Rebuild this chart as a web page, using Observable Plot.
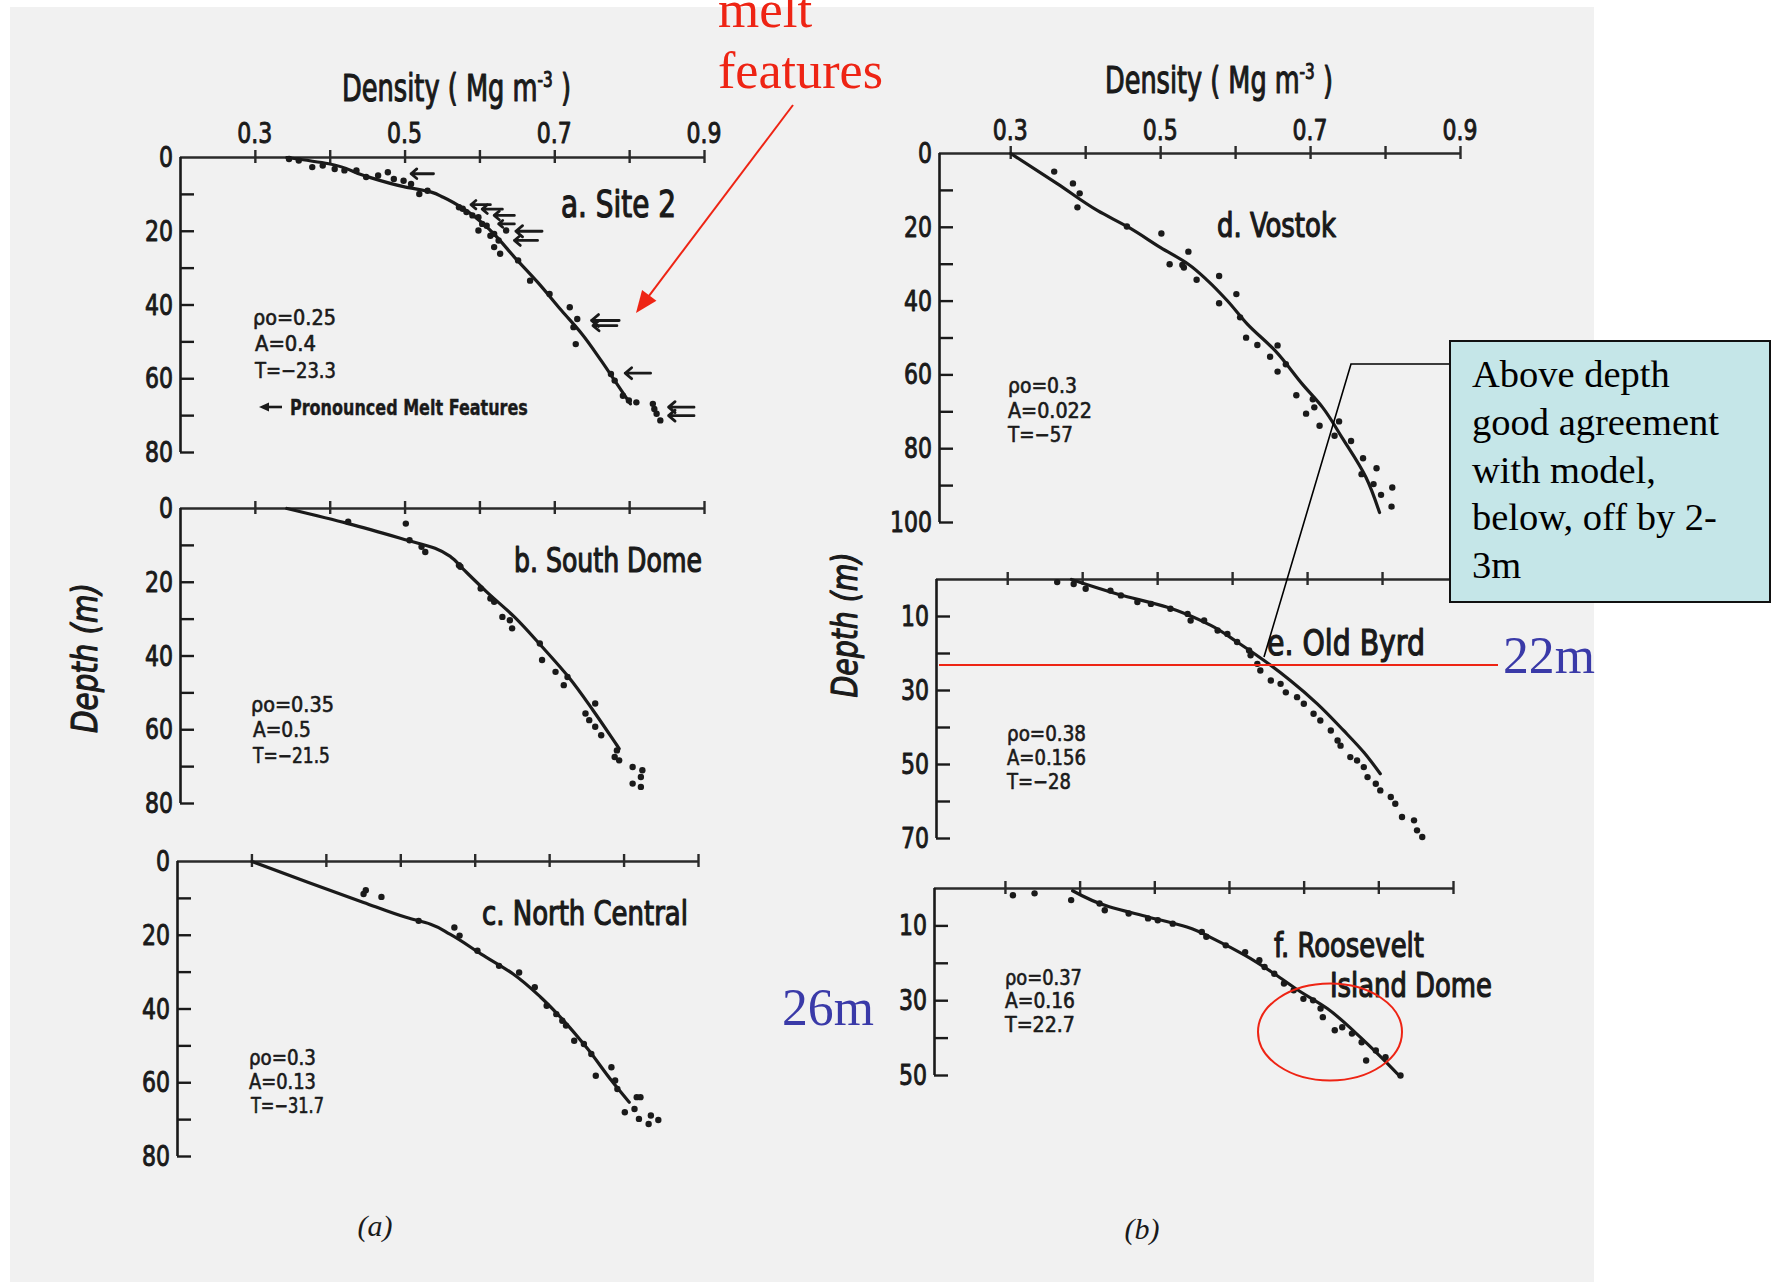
<!DOCTYPE html>
<html><head><meta charset="utf-8">
<script src="https://cdn.jsdelivr.net/npm/d3@7"></script>
<script src="https://cdn.jsdelivr.net/npm/@observablehq/plot@0.6"></script>
<style>
html,body{margin:0;padding:0;background:#fff;}
#wrap{position:relative;width:1779px;height:1282px;overflow:hidden;background:#fff;}
#paper{position:absolute;left:10px;top:7px;width:1584px;height:1275px;background:#f1f1f1;}
#wrap svg{position:absolute;left:0;top:0;}
</style></head><body><div id="wrap"><div id="paper"></div></div>
<script>
// ---------------- data (density Mg m^-3, depth m) ----------------
const densityTicks = [0.3, 0.4, 0.5, 0.6, 0.7, 0.8, 0.9];
const densityTickLabels = [0.3, 0.5, 0.7, 0.9];
const depthLabels80 = [0, 20, 40, 60, 80];
const depthLabels100 = [0, 20, 40, 60, 80, 100];
const depthLabels70 = [10, 30, 50, 70];
const depthLabels50 = [10, 30, 50];

// a. Site 2
const siteA_model = [[0.342,0],[0.398,1.7],[0.445,4.9],[0.498,7.9],[0.535,9.4],[0.551,10.8],[0.582,14.4],[0.614,19.8],[0.646,27.0],[0.677,33.8],[0.709,41.5],[0.736,47.8],[0.762,55.1],[0.783,61.4],[0.801,66.8]];
const siteA_obs = [[0.345,0.4],[0.358,0.8],[0.376,2.6],[0.390,2.2],[0.406,3.1],[0.419,3.5],[0.435,3.5],[0.448,5.3],[0.464,4.9],[0.477,4.0],[0.485,5.8],[0.498,6.3],[0.508,7.2],[0.519,9.9],[0.530,9.0],[0.572,13.5],[0.577,13.9],[0.582,14.8],[0.590,15.7],[0.598,16.2],[0.603,18.0],[0.598,19.8],[0.609,18.5],[0.614,21.2],[0.619,20.7],[0.619,24.3],[0.625,22.5],[0.627,26.1],[0.635,19.8],[0.651,27.9],[0.667,33.4],[0.693,37.0],[0.720,40.6],[0.730,43.8],[0.725,46.0],[0.728,50.6],[0.775,58.7],[0.780,60.5],[0.791,64.6],[0.799,65.9],[0.809,66.4],[0.831,66.8],[0.833,68.2],[0.836,69.5],[0.841,71.3]];
// pronounced melt features: [tail density, tip density, depth]
const siteA_melt = [[0.538,0.508,4.4],[0.614,0.588,12.8],[0.630,0.603,14.0],[0.646,0.619,15.7],[0.646,0.625,18.0],[0.683,0.648,20.0],[0.677,0.646,22.5],[0.786,0.749,44.2],[0.783,0.751,45.6],[0.828,0.794,58.5],[0.886,0.852,67.7],[0.886,0.852,70.0]];

// b. South Dome
const siteB_model = [[0.342,0],[0.424,4.1],[0.503,8.6],[0.540,10.8],[0.561,13.1],[0.577,16.3],[0.609,22.6],[0.646,29.4],[0.683,37.5],[0.720,46.1],[0.751,54.7],[0.783,64.2],[0.786,65.1]];
const siteB_obs = [[0.424,3.6],[0.501,4.1],[0.506,8.6],[0.522,10.4],[0.527,11.8],[0.572,15.4],[0.574,15.8],[0.601,21.7],[0.614,24.4],[0.619,25.3],[0.630,29.4],[0.640,30.3],[0.643,32.5],[0.680,36.6],[0.683,41.1],[0.701,44.3],[0.712,47.9],[0.717,45.7],[0.741,55.6],[0.746,57.4],[0.754,59.2],[0.762,61.5],[0.754,52.9],[0.783,65.6],[0.780,67.4],[0.786,68.3],[0.804,70.1],[0.817,71.0],[0.815,72.8],[0.804,74.6],[0.815,75.5]];

// c. North Central
const siteC_model = [[0.300,0],[0.376,5.7],[0.450,11.1],[0.508,15.2],[0.540,17.0],[0.566,19.7],[0.608,25.1],[0.651,30.5],[0.688,36.8],[0.719,43.2],[0.751,50.8],[0.783,59.4],[0.807,65.3]];
const siteC_obs = [[0.453,7.8],[0.450,8.8],[0.474,9.6],[0.524,16.1],[0.572,17.9],[0.579,20.1],[0.603,24.2],[0.632,28.3],[0.659,30.1],[0.680,34.1],[0.696,39.1],[0.709,41.4],[0.717,43.2],[0.722,44.5],[0.733,48.6],[0.746,49.5],[0.756,52.2],[0.762,58.1],[0.783,55.8],[0.788,59.4],[0.791,61.7],[0.817,63.9],[0.822,63.9],[0.801,68.0],[0.814,67.1],[0.820,69.8],[0.833,71.2],[0.836,68.9],[0.846,70.1]];

// d. Vostok
const siteD_model = [[0.300,0],[0.363,8.3],[0.416,15.5],[0.458,20.1],[0.500,25.5],[0.537,30.0],[0.563,34.5],[0.589,39.9],[0.616,46.3],[0.653,53.5],[0.689,62.5],[0.716,68.8],[0.742,77.0],[0.774,87.8],[0.792,97.3]];
const siteD_obs = [[0.358,4.9],[0.383,8.1],[0.392,10.8],[0.389,14.6],[0.455,19.8],[0.501,21.7],[0.537,26.6],[0.512,30.0],[0.529,30.2],[0.531,30.9],[0.548,34.2],[0.578,33.2],[0.578,40.6],[0.601,38.1],[0.606,44.4],[0.614,49.9],[0.629,51.9],[0.656,52.0],[0.646,55.1],[0.667,57.1],[0.656,59.1],[0.681,65.5],[0.703,66.6],[0.705,68.8],[0.694,70.5],[0.712,73.8],[0.738,72.6],[0.732,76.5],[0.754,77.9],[0.770,82.6],[0.788,85.3],[0.768,86.9],[0.784,89.6],[0.809,90.5],[0.794,92.5],[0.808,95.7]];

// e. Old Byrd
const siteE_model = [[0.385,0],[0.446,3.9],[0.513,7.5],[0.571,12.4],[0.606,16.9],[0.642,21.9],[0.677,27.3],[0.713,33.6],[0.748,40.8],[0.775,46.7],[0.797,52.5]];
const siteE_obs = [[0.366,0.7],[0.388,1.2],[0.404,2.5],[0.437,3.0],[0.451,4.3],[0.473,6.1],[0.491,6.6],[0.517,7.9],[0.540,9.3],[0.544,11.1],[0.562,11.1],[0.580,13.8],[0.593,14.7],[0.606,16.9],[0.622,19.2],[0.624,20.5],[0.633,22.8],[0.637,24.6],[0.651,27.3],[0.664,28.2],[0.671,30.5],[0.686,31.8],[0.695,33.6],[0.708,36.3],[0.717,38.1],[0.731,40.8],[0.740,43.5],[0.744,44.9],[0.757,48.0],[0.766,48.9],[0.775,50.7],[0.780,53.4],[0.791,55.2],[0.797,57.0],[0.811,58.8],[0.817,60.6],[0.826,64.2],[0.842,65.1],[0.846,67.8],[0.853,69.6]];

// f. Roosevelt Island Dome
const siteF_model = [[0.390,0.6],[0.439,4.9],[0.491,7.6],[0.543,10.3],[0.582,13.8],[0.621,17.9],[0.660,22.8],[0.692,27.2],[0.731,32.1],[0.770,38.8],[0.803,45.1],[0.828,50.2]];
const siteF_obs = [[0.310,1.8],[0.339,1.3],[0.388,3.1],[0.426,4.0],[0.433,5.8],[0.465,6.7],[0.491,8.0],[0.504,8.5],[0.524,9.4],[0.563,11.6],[0.569,12.9],[0.595,15.2],[0.621,17.0],[0.640,19.2],[0.647,21.0],[0.660,22.8],[0.673,25.4],[0.686,27.2],[0.699,29.5],[0.712,29.9],[0.722,32.1],[0.725,34.4],[0.741,37.9],[0.751,37.1],[0.764,38.8],[0.777,41.1],[0.783,46.0],[0.796,43.3],[0.809,45.1],[0.829,50.0]];

// ---------------- layout ----------------
const W = 1779, H = 1282;
const ink = "#1a1a1a";
const COND = '"DejaVu Sans Condensed","Liberation Sans Narrow","Roboto Condensed","DejaVu Sans",sans-serif';
const SERIF = '"Liberation Serif","DejaVu Serif",serif';
const wrap = document.getElementById("wrap");

const panels = [
  {model: siteA_model, obs: siteA_obs, melt: siteA_melt, xDom: [0.2, 0.9], xPx: [180, 704], yMax: 80, yPx: [157, 452], labels: depthLabels80, xLabelBase: 143},
  {model: siteB_model, obs: siteB_obs, xDom: [0.2, 0.9], xPx: [180, 704], yMax: 80, yPx: [508, 803], labels: depthLabels80},
  {model: siteC_model, obs: siteC_obs, xDom: [0.2, 0.9], xPx: [177, 698], yMax: 80, yPx: [861, 1156], labels: depthLabels80},
  {model: siteD_model, obs: siteD_obs, xDom: [0.205, 0.9], xPx: [939, 1460], yMax: 100, yPx: [153, 522], labels: depthLabels100, xLabelBase: 140},
  {model: siteE_model, obs: siteE_obs, xDom: [0.205, 0.9], xPx: [936, 1457], yMax: 70, yPx: [579, 838], labels: depthLabels70},
  {model: siteF_model, obs: siteF_obs, xDom: [0.205, 0.9], xPx: [934, 1453], yMax: 50, yPx: [888, 1075], labels: depthLabels50}
];

const scales = [];
for (const p of panels) {
  const x0 = p.xDom[0];
  const minor = d3.range(10, p.yMax + 1, 10);
  const marks = [
    Plot.ruleY([0], {x1: x0, x2: 0.9, stroke: "#2a2a2a", strokeWidth: 2.6}),
    Plot.ruleX(densityTicks, {x: d => d, y1: 0, y2: 0, insetTop: -7, insetBottom: -6, stroke: "#2a2a2a", strokeWidth: 2.4}),
    Plot.ruleX([x0], {y1: 0, y2: p.yMax, stroke: ink, strokeWidth: 2.6}),
    Plot.ruleY(minor, {y: d => d, x1: x0, x2: x0, insetRight: -14, stroke: ink, strokeWidth: 2.4}),
    Plot.line(p.model, {x: d => d[0], y: d => d[1], curve: "monotone-y", stroke: ink, strokeWidth: 3.2}),
    Plot.dot(p.obs, {x: d => d[0], y: d => d[1], r: 3.2, fill: ink, stroke: "none"})
  ];
  if (p.melt) marks.push(Plot.arrow(p.melt, {x1: d => d[0], x2: d => d[1], y1: d => d[2], y2: d => d[2], stroke: ink, strokeWidth: 2.8, headLength: 8, headAngle: 80}));
  const plot = Plot.plot({
    width: W, height: H, margin: 0,
    style: {background: "transparent", overflow: "visible"},
    x: {domain: p.xDom, range: p.xPx, axis: null},
    y: {domain: [0, p.yMax], range: p.yPx, axis: null},
    marks
  });
  wrap.appendChild(plot);
  const sx = plot.scale("x"), sy = plot.scale("y");
  scales.push({
    fx: sx.apply ? sx.apply : d3.scaleLinear(sx.domain, sx.range),
    fy: sy.apply ? sy.apply : d3.scaleLinear(sy.domain, sy.range)
  });
}

// ---------------- overlay text & annotations ----------------
const ov = d3.select(wrap).append("svg").attr("width", W).attr("height", H);

function T(str, x, y, o = {}) {
  const g = ov.append("g").attr("transform", `translate(${x},${y})` + (o.rotate ? ` rotate(${o.rotate})` : ""));
  const t = g.append("text")
    .attr("font-family", o.family || COND)
    .attr("font-size", o.size || 28)
    .attr("fill", o.fill || ink)
    .attr("text-anchor", o.anchor || "start");
  if (o.style) t.attr("font-style", o.style);
  if (o.weight) t.attr("font-weight", o.weight);
  if (o.thick) t.attr("stroke", o.fill || ink).attr("stroke-width", o.thick).attr("stroke-linejoin", "round");
  if (Array.isArray(str)) {
    for (const s of str) {
      const ts = t.append("tspan").text(s.t);
      if (s.size) ts.attr("font-size", s.size);
      if (s.dy) ts.attr("dy", s.dy);
    }
  } else t.text(str);
  let k = o.k || 1;
  if (o.w) k = o.w / t.node().getComputedTextLength();
  t.attr("transform", `scale(${k},1)`);
  return g;
}

// tick label condense factor
const probe = T("20", 0, -200, {size: 28});
const kTick = 28 / probe.select("text").node().getComputedTextLength();
probe.remove();

const fmt = d3.format(".1f");
panels.forEach((p, i) => {
  const {fx, fy} = scales[i];
  const ax = fx(p.xDom[0]);
  for (const v of p.labels) T(String(v), ax - 7, fy(v) + 10, {size: 28, anchor: "end", k: kTick, thick: 0.9});
  if (p.xLabelBase) for (const v of densityTickLabels) T(fmt(v), fx(v), p.xLabelBase, {size: 28, anchor: "middle", k: kTick, thick: 0.9});
});

// axis titles
const supTitle = [{t: "Density ( Mg m"}, {t: "-3", size: 22, dy: -14}, {t: " )", dy: 14}];
T(supTitle, 342, 101, {size: 37, w: 229, thick: 1.1});
T(supTitle, 1105, 93, {size: 37, w: 228, thick: 1.1});
T("Depth (m)", 97, 658, {rotate: -90, anchor: "middle", style: "italic", size: 36, w: 150, thick: 1.1});
T("Depth (m)", 857, 625, {rotate: -90, anchor: "middle", style: "italic", size: 36, w: 145, thick: 1.1});

// site labels
T("a. Site 2", 561, 217, {size: 37, w: 115, thick: 1.2});
T("b. South Dome", 514, 572, {size: 34, w: 188, thick: 1.2});
T("c. North Central", 482, 925, {size: 34, w: 206, thick: 1.2});
T("d. Vostok", 1217, 237, {size: 34, w: 119, thick: 1.2});
T("e. Old  Byrd", 1267, 655, {size: 36, w: 158, thick: 1.2});
T("f. Roosevelt", 1274, 957, {size: 34, w: 150, thick: 1.2});
T("Island Dome", 1330, 997, {size: 34, w: 162, thick: 1.2});

// model parameters
const params = [
  [253, 325, "ρo=0.25", 83], [255, 351, "A=0.4", 61], [255, 378, "T=−23.3", 81],
  [251, 712, "ρo=0.35", 83], [253, 737, "A=0.5", 58], [253, 763, "T=−21.5", 77],
  [249, 1065, "ρo=0.3", 67], [249, 1089, "A=0.13", 67], [251, 1113, "T=−31.7", 73],
  [1008, 393, "ρo=0.3", 69], [1008, 418, "A=0.022", 84], [1008, 442, "T=−57", 65],
  [1007, 741, "ρo=0.38", 79], [1007, 765, "A=0.156", 79], [1007, 789, "T=−28", 64],
  [1005, 985, "ρo=0.37", 77], [1005, 1008, "A=0.16", 70], [1005, 1032, "T=22.7", 70]
];
for (const [x, y, s, w] of params) T(s, x, y, {size: 21, w, thick: 0.6});

// legend in panel a
function arrow(x1, y1, x2, y2, len, half, color, width) {
  const dx = x2 - x1, dy = y2 - y1, L = Math.hypot(dx, dy), ux = dx / L, uy = dy / L;
  const bx = x2 - ux * len, by = y2 - uy * len;
  ov.append("line").attr("x1", x1).attr("y1", y1).attr("x2", bx + ux * 2).attr("y2", by + uy * 2)
    .attr("stroke", color).attr("stroke-width", width);
  ov.append("path").attr("d", `M${x2},${y2}L${bx - uy * half},${by + ux * half}L${bx + uy * half},${by - ux * half}Z`).attr("fill", color);
}
arrow(282, 407, 259, 407, 10, 4.5, ink, 2.6);
T("Pronounced Melt Features", 290, 415, {size: 22, w: 238, weight: 600, thick: 0.4});

// panel group labels
T("(a)", 375, 1236, {family: SERIF, style: "italic", size: 30, anchor: "middle"});
T("(b)", 1142, 1239, {family: SERIF, style: "italic", size: 30, anchor: "middle"});

// red "melt features" callout
const RED = "#ee2414";
T("melt", 718, 27, {family: SERIF, size: 53, fill: RED});
T("features", 718, 88, {family: SERIF, size: 53, fill: RED, w: 165});
arrow(793, 105, 636, 313, 22, 9, RED, 2);

// 22 m line and labels
const BLUE = "#3a3aa8";
ov.append("line").attr("x1", 939).attr("y1", 665).attr("x2", 1498).attr("y2", 665).attr("stroke", RED).attr("stroke-width", 2.2);
T("22m", 1503, 673, {family: SERIF, size: 52, fill: BLUE, w: 92});
T("26m", 782, 1025, {family: SERIF, size: 52, fill: BLUE, w: 92});
ov.append("ellipse").attr("cx", 1330).attr("cy", 1032).attr("rx", 72).attr("ry", 48.5)
  .attr("fill", "none").attr("stroke", RED).attr("stroke-width", 2);

// callout box
ov.append("polyline").attr("points", "1450,364 1351,364 1264,657").attr("fill", "none").attr("stroke", "#000").attr("stroke-width", 1.6);
ov.append("rect").attr("x", 1450).attr("y", 341).attr("width", 320).attr("height", 261)
  .attr("fill", "#c5e6e8").attr("stroke", "#111").attr("stroke-width", 2);
const boxLines = ["Above depth", "good agreement", "with model,", "below, off by 2-", "3m"];
boxLines.forEach((s, i) => T(s, 1472, 387 + i * 47.8, {family: SERIF, size: 38.5, fill: "#000"}));
</script>
</body></html>
